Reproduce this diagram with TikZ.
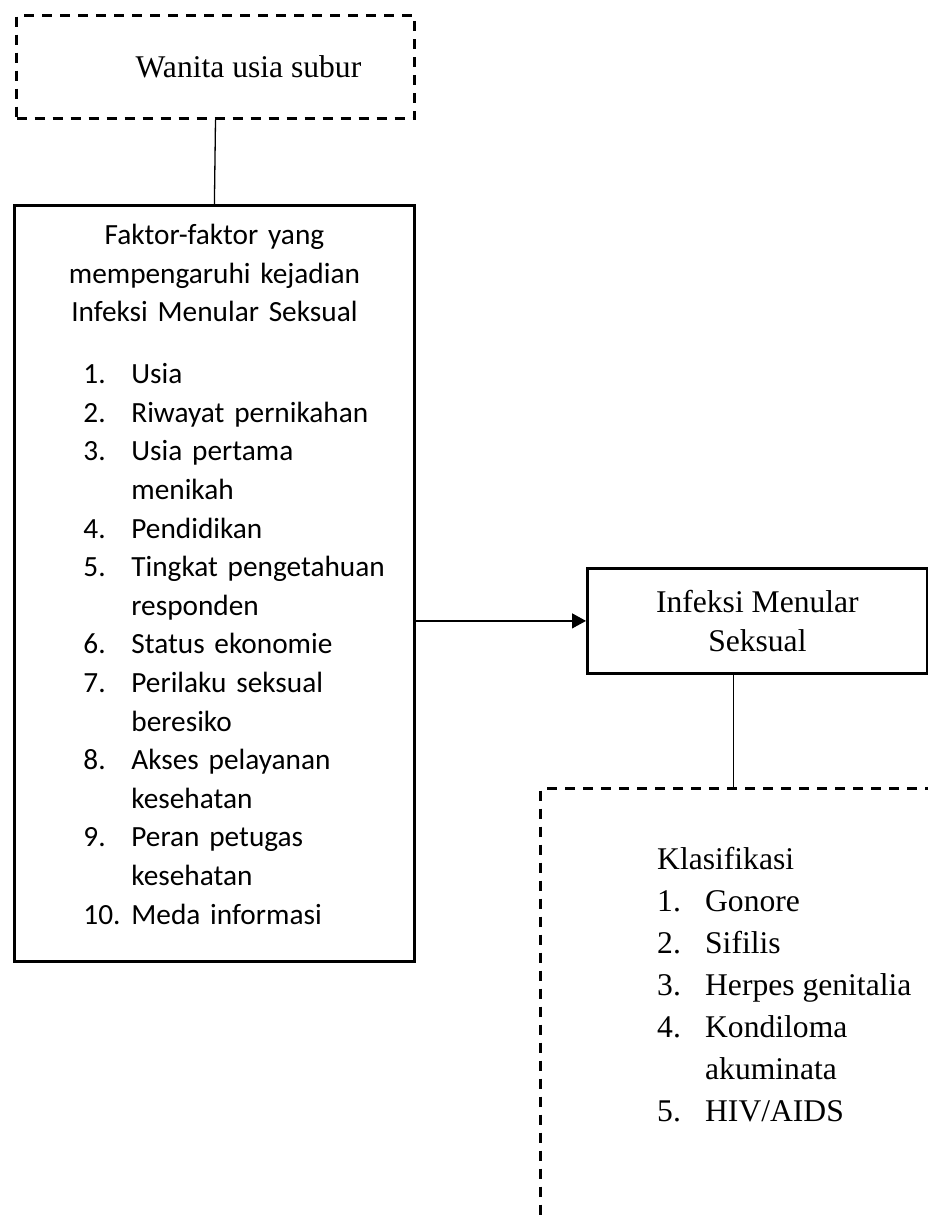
\documentclass[tikz,border=0pt]{standalone}
\usepackage{fontspec}
\setmainfont{Liberation Serif}
\newfontfamily\calibri{Carlito}
\usetikzlibrary{positioning,arrows.meta,calc}
\newcommand{\fitem}[2]{\hspace*{69pt}\makebox[48pt][l]{#1}#2}
\newcommand{\fcont}[1]{\hspace*{117pt}#1}
\newcommand{\kitem}[2]{\makebox[48pt][l]{#1}#2}
\newcommand{\kcont}[1]{\hspace*{48pt}#1}

\begin{document}
\begin{tikzpicture}[x=1pt, y=-1pt,
  box/.style={draw=black, line width=2.8pt, inner sep=0pt},
  dashbox/.style={box, line width=3pt, dash pattern=on 10pt off 8pt},
  link/.style={draw=black, line width=1.3pt},
  serif/.style={font=\fontsize{31.6}{42}\selectfont},
  calib/.style={font=\calibri\fontsize{29.3}{38.6}\selectfont}]

\useasboundingbox (0,0) rectangle (928,1219);

% boxes
\node (wus) [dashbox, serif, anchor=north west, minimum width=398pt, minimum height=103pt]
  at (15,14) {\hspace*{66pt}Wanita usia subur};
\node (faktor) [box, anchor=north west, minimum width=400pt, minimum height=756pt] at (13,204) {};
\node (ims) [box, serif, font=\fontsize{31.6}{38.5}\selectfont, align=center, anchor=north west,
  minimum width=340pt, minimum height=105pt] at (586,567) {Infeksi Menular\\Seksual};
\node (klas) [dashbox, anchor=north west, minimum width=500pt, minimum height=600pt] at (539,787) {};

% texts
\node (faktortxt) [calib, text width=400pt, inner sep=0pt, align=left, anchor=north]
  at ([yshift=-20pt]faktor.north) {%
  \makebox[400pt]{Faktor-faktor yang}\\
  \makebox[400pt]{mempengaruhi kejadian}\\
  \makebox[400pt]{Infeksi Menular Seksual}\\[23.4pt]
  \fitem{1.}{Usia}\\
  \fitem{2.}{Riwayat pernikahan}\\
  \fitem{3.}{Usia pertama}\\
  \fcont{menikah}\\
  \fitem{4.}{Pendidikan}\\
  \fitem{5.}{Tingkat pengetahuan}\\
  \fcont{responden}\\
  \fitem{6.}{Status ekonomie}\\
  \fitem{7.}{Perilaku seksual}\\
  \fcont{beresiko}\\
  \fitem{8.}{Akses pelayanan}\\
  \fcont{kesehatan}\\
  \fitem{9.}{Peran petugas}\\
  \fcont{kesehatan}\\
  \fitem{10.}{Meda informasi}};

\node (klastxt) [serif, inner sep=0pt, align=left, anchor=north west]
  at ([xshift=118pt,yshift=-60.5pt]klas.north west) {%
  Klasifikasi\\
  \kitem{1.}{Gonore}\\
  \kitem{2.}{Sifilis}\\
  \kitem{3.}{Herpes genitalia}\\
  \kitem{4.}{Kondiloma}\\
  \kcont{akuminata}\\
  \kitem{5.}{HIV/AIDS}};

% connectors
\draw[link] (wus.south) -- (faktor.north);
\draw[link, -{Triangle[length=14pt,width=15pt]}] (faktor.east |- ims.west) -- (ims.west);
\draw[link] ([xshift=-24pt]ims.south) -- ([xshift=-24pt]ims.south |- klas.north);
\end{tikzpicture}
\end{document}
